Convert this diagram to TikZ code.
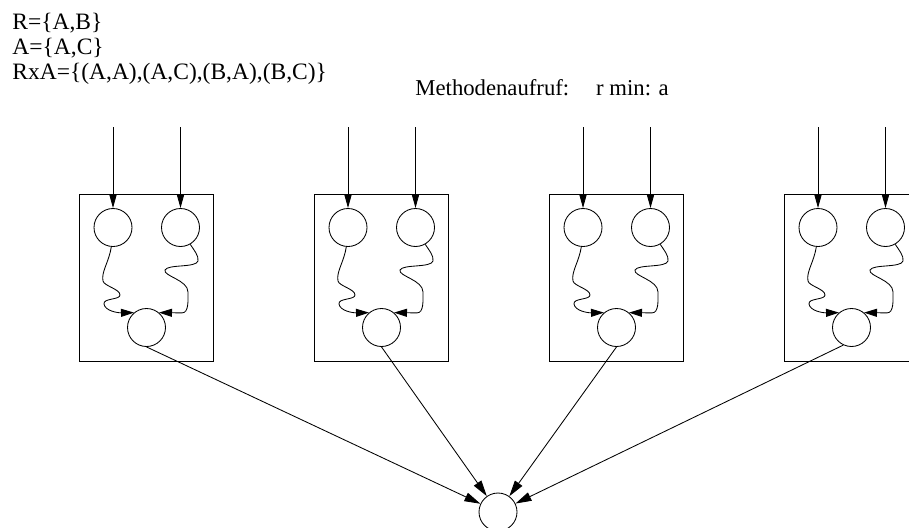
\documentclass[tikz,border=0pt]{standalone}
\usepackage{fontspec}
\setmainfont{Liberation Serif}
\usetikzlibrary{arrows.meta}
\begin{document}
\begin{tikzpicture}[x=1pt,y=-1pt,
  line width=0.85pt,
  tipin/.style={-{Triangle[length=14pt,width=7.5pt]}},
  tip/.style={-{Triangle[length=13pt,width=8pt]}},
  tipout/.style={-{Triangle[length=16pt,width=9pt]}},
  state/.style={circle,draw,minimum size=38pt,inner sep=0pt},
  frame/.style={draw},
  lbl/.style={anchor=base west,inner sep=0pt,font=\fontsize{23.5}{25}\selectfont},
  calllbl/.style={anchor=base west,inner sep=0pt,font=\fontsize{22.7}{25}\selectfont}]
\useasboundingbox (0,0) rectangle (909,527);
\clip (0,0) rectangle (909,527);

% set definitions
\node[lbl] (t1) at (12,29.5) {R=\{A,B\}};
\node[lbl] (t2) at (12,54.5) {A=\{A,C\}};
\node[lbl] (t3) at (12,79.5) {RxA=\{(A,A),(A,C),(B,A),(B,C)\}};
\node[calllbl] (call) at (415,95) {Methodenaufruf:\hspace{27pt}r min: a};

% result node
\node[state] (f) at (498,512) {};

% one box per pair
\foreach \i/\dx in {1/0,2/235,3/470,4/705}{
  \begin{scope}[xshift=\dx]
    \draw[frame] (79,194.5) rectangle (213.5,361.5);
    \node[state] (l\i) at (113,227.5) {};
    \node[state] (r\i) at (180.5,227.5) {};
    \node[state] (b\i) at (146.5,327.5) {};
    \coordinate (inl\i) at (113,127);
    \coordinate (inr\i) at (180.5,127);
    % wavy left connector
    \draw[tip] (l\i.-95) .. controls (109,262) and (101,272) .. (103,281)
      .. controls (104,286) and (120,289) .. (120,295)
      .. controls (120,300) and (103,298) .. (104,304)
      .. controls (105,311) and (118,312.9) .. (b\i.130);
    % wavy right connector
    \draw[tip] (r\i.-60) .. controls (194,250) and (199,256) .. (198,261)
      .. controls (196,268) and (168,264) .. (165,270)
      .. controls (163,276) and (188,280) .. (188,292)
      .. controls (188,300) and (189,312.9) .. (182,312.9)
      -- (b\i.50);
  \end{scope}
  \draw[tipin] (inl\i) -- (l\i);
  \draw[tipin] (inr\i) -- (r\i);
}

% outputs into the result node
\draw[tipout] (b1.south) -- (f);
\draw[tipout] (b2.south) -- (f);
\draw[tipout] (b3.south) -- (f);
\draw[tipout] (b4.-115) -- (f);
\end{tikzpicture}
\end{document}
